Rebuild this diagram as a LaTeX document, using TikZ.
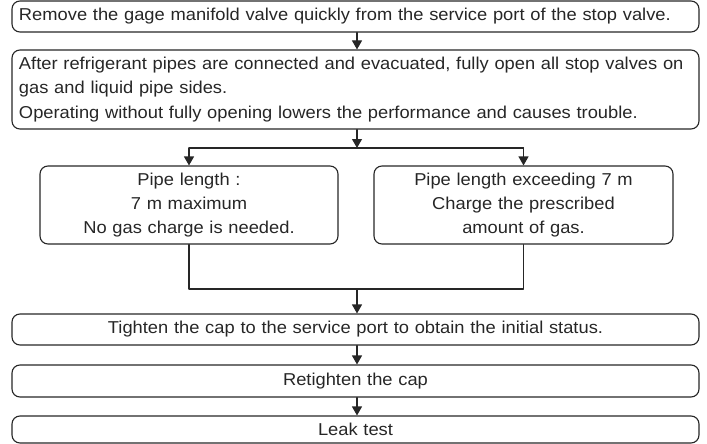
\documentclass[tikz,border=0pt]{standalone}
\usepackage{fontspec}
\setmainfont{Liberation Sans}[FakeStretch=1.065]
\usetikzlibrary{arrows.meta}
\definecolor{ink}{gray}{0.15}
\tikzset{
  stepbox/.style={draw=ink,line width=1.1pt,rounded corners=8pt,inner sep=0pt,inner xsep=8pt,
    text=ink,font=\fontsize{17.2}{24}\selectfont},
  link/.style={draw=ink,line width=1.1pt},
  flow/.style={link,-{Triangle[width=10pt,length=9pt]}},
}
\begin{document}
\begin{tikzpicture}[x=1pt,y=-1pt,line cap=round,line join=round]
  \useasboundingbox (0,0) rectangle (707,444);
  \coordinate (split) at (357,148);
  \coordinate (join) at (357,289);
  \node[stepbox,text width=673pt,inner xsep=7pt,align=left,minimum height=31pt] (remove) at (355.5,16.5)
    {Remove the gage manifold valve quickly from the service port of the stop valve.};
  \node[stepbox,text width=673pt,inner xsep=7pt,inner ysep=3pt,align=left,font=\fontsize{17.2}{24.5}\selectfont,
    minimum height=79pt] (open) at (355.5,89.5)
    {After refrigerant pipes are connected and evacuated, fully open all stop valves on\\
     gas and liquid pipe sides.\\
     Operating without fully opening lowers the performance and causes trouble.};
  \node[stepbox,text width=282pt,align=center,minimum height=78pt] (short) at (189,205)
    {Pipe length :\\ 7 m maximum\\ No gas charge is needed.};
  \node[stepbox,text width=283pt,align=center,minimum height=78pt] (long) at (523.5,205)
    {Pipe length exceeding 7 m\\ Charge the prescribed\\ amount of gas.};
  \node[stepbox,text width=671pt,align=center,minimum height=31pt] (tighten) at (355.5,329.5)
    {Tighten the cap to the service port to obtain the initial status.};
  \node[stepbox,text width=671pt,align=center,minimum height=32pt] (retighten) at (355.5,381)
    {Retighten the cap};
  \node[stepbox,text width=671pt,align=center,minimum height=27pt] (leak) at (355.5,429.5)
    {Leak test};
  % connectors
  \draw[flow] (remove.south -| split) -- (open.north -| split);
  \draw[flow] (open.south -| split) -- (split);
  \draw[link] (short.north |- split) -- (long.north |- split);
  \draw[flow] (short.north |- split) -- (short.north);
  \draw[flow] (long.north |- split) -- (long.north);
  \draw[link] (short.south) -- (short.south |- join) -- (long.south |- join) -- (long.south);
  \draw[flow] (join) -- (tighten.north -| join);
  \draw[flow] (tighten.south -| join) -- (retighten.north -| join);
  \draw[flow] (retighten.south -| join) -- (leak.north -| join);
\end{tikzpicture}
\end{document}
